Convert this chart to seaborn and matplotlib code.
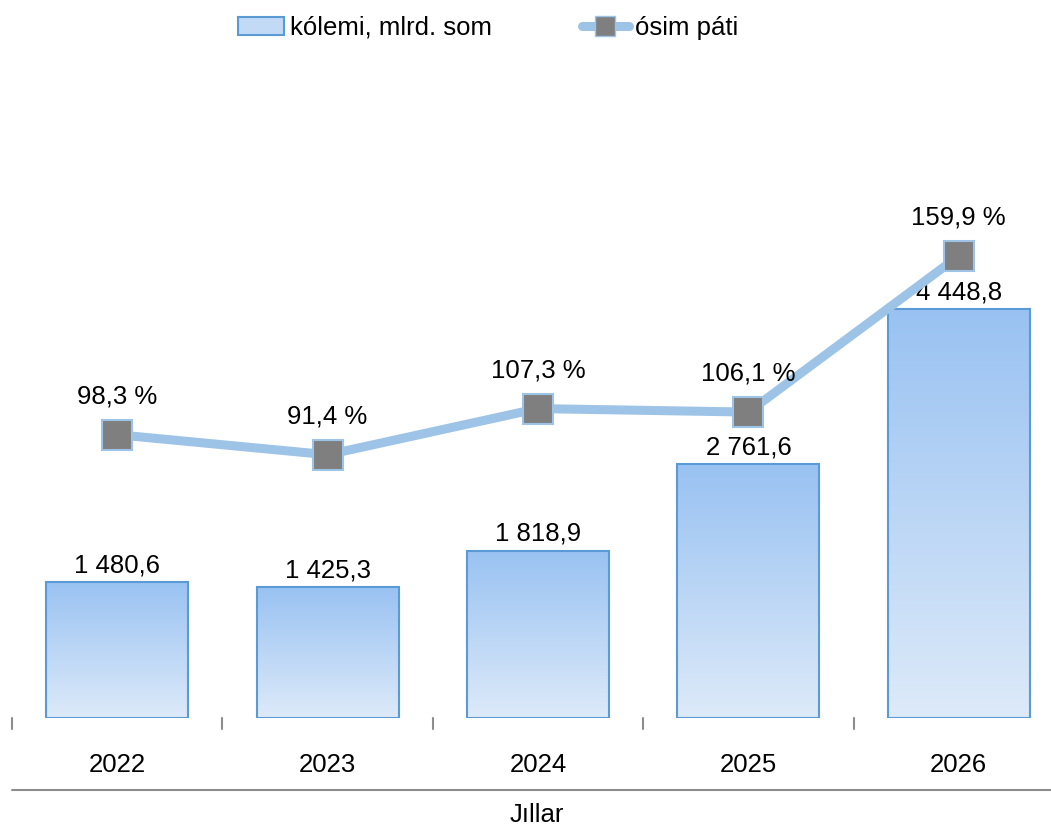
import numpy as np
import pandas as pd
import matplotlib.pyplot as plt
import matplotlib.colors as mcolors
from matplotlib.patches import Patch
from matplotlib.lines import Line2D
import seaborn as sns

years = ['2022', '2023', '2024', '2025', '2026']
volume = [1480.6, 1425.3, 1818.9, 2761.6, 4448.8]
growth = [98.3, 91.4, 107.3, 106.1, 159.9]
volume_labels = ['1 480,6', '1 425,3', '1 818,9', '2 761,6', '4 448,8']
growth_labels = ['98,3 %', '91,4 %', '107,3 %', '106,1 %', '159,9 %']

df = pd.DataFrame({'year': years, 'volume': volume, 'growth': growth})

sns.set_theme(style="white")
plt.rcParams['font.family'] = ['Liberation Sans', 'DejaVu Sans']
plt.rcParams['text.color'] = 'black'
FS = 18.5

fig = plt.figure(figsize=(10.51, 8.31), dpi=100)
W, H = 1051, 831
# plot area: x 12..1064 px, y 60..718 px
ax = fig.add_axes([12 / W, (H - 718) / H, 1052 / W, 658 / H])
YMAX = 658 / 0.0919

sns.barplot(data=df, x='year', y='volume', ax=ax, width=0.675,
            color='#A9CBF2', edgecolor='#5B9BD5', linewidth=1.5, zorder=2)
ax.set_xlim(-0.5, 4.5)
ax.set_ylim(0, YMAX)

# gradient fill inside each bar
grad = mcolors.LinearSegmentedColormap.from_list('g', ['#DDEAF9', '#99C2F2'])
gradient = np.linspace(0, 1, 256).reshape(-1, 1)
for p in ax.patches:
    x0, y0 = p.get_x(), p.get_y()
    w, h = p.get_width(), p.get_height()
    im = ax.imshow(gradient, cmap=grad, aspect='auto', origin='lower',
                   extent=[x0, x0 + w, y0, y0 + h], zorder=2.1)
    im.set_clip_path(p)
    p.set_facecolor('none')
    p.set_zorder(2.2)

for i, (v, lab) in enumerate(zip(volume, volume_labels)):
    ax.annotate(lab, (i, v), xytext=(0, 3.5), textcoords='offset points',
                ha='center', va='bottom', fontsize=FS, color='black')

ax.set_xlabel('')
ax.set_ylabel('')
ax.set_yticks([])
ax.set_xticks([])
for s in ax.spines.values():
    s.set_visible(False)

# category boundary ticks
px = YMAX / 658
for b in np.arange(-0.5, 5, 1):
    ax.plot([b, b], [0, -11 * px], color='#8C8C8C', lw=1.5,
            clip_on=False, zorder=1)
for i, y in enumerate(years):
    ax.text(i, -47 * px, y, ha='center', va='center', fontsize=FS, color='black')

ax2 = ax.twinx()
ax2.set_ylim(0.7, 227.4)
sns.lineplot(x=list(range(5)), y=growth, ax=ax2, color='#9DC3E6', lw=6.5,
             marker='s', markersize=21, markerfacecolor='#7F7F7F',
             markeredgecolor='#9DC3E6', markeredgewidth=1.5, zorder=3)
for i, (g, lab) in enumerate(zip(growth, growth_labels)):
    ax2.annotate(lab, (i, g), xytext=(0, 19), textcoords='offset points',
                 ha='center', va='bottom', fontsize=FS, color='black')
ax2.set_yticks([])
ax2.set_ylabel('')
for s in ax2.spines.values():
    s.set_visible(False)

# horizontal rule under the year labels and axis title
fig.add_artist(Line2D([12 / W, 1.0], [(H - 790) / H] * 2,
                      color='#8C8C8C', lw=1.5))
fig.text(537 / W, (H - 815) / H, 'Jıllar', ha='center', va='center',
         fontsize=FS, color='black')

# legend
handles = [
    Patch(facecolor='#C3DAF6', edgecolor='#5B9BD5', lw=1.5, label='kólemi, mlrd. som'),
    Line2D([], [], color='#9DC3E6', lw=6.5, marker='s', markersize=15,
           markerfacecolor='#7F7F7F', markeredgecolor='#9DC3E6', label='ósim páti'),
]
fig.legend(handles=handles, loc='center', bbox_to_anchor=(488 / W, (H - 28) / H),
           ncol=2, frameon=False, fontsize=FS, handlelength=1.8,
           handletextpad=0.25, columnspacing=3.5)

plt.savefig('out.png', dpi=100)
